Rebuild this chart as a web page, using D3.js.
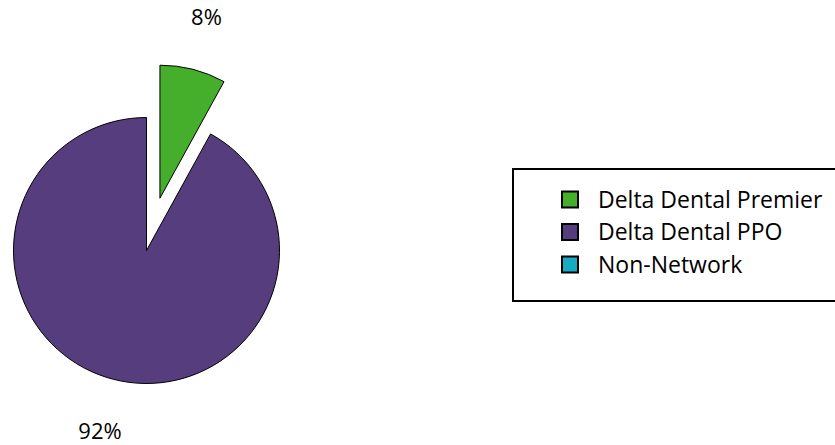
<!DOCTYPE html>
<html>
<head>
<meta charset="utf-8">
<script src="https://cdn.jsdelivr.net/npm/d3@7"></script>
<style>
  body { margin: 0; background: #fff; }
  text { font-family: "Open Sans", "DejaVu Sans", sans-serif; fill: #000; }
</style>
</head>
<body>
<div class="chart"></div>
<script>
var svgWidth = 835;
var svgHeight = 445;

// data
var categories = ["Delta Dental Premier", "Delta Dental PPO", "Non-Network"];
var shares = [8, 92, 0];
var colors = ["#45AF2B", "#563D7D", "#18A9C3"];
var exploded = [true, false, false];

var center = { x: 146.5, y: 250.5 };
var radius = 133;
var explodeDist = 54;
var labelRadius = 187;

var svg = d3.select(".chart")
    .append("svg")
    .attr("width", svgWidth)
    .attr("height", svgHeight);

var data = categories.map((c, i) => ({ name: c, value: shares[i], color: colors[i], explode: exploded[i] }));

var pie = d3.pie()
    .sort(null)
    .value(d => d.value);

var arc = d3.arc()
    .innerRadius(0)
    .outerRadius(radius);

var labelArc = d3.arc()
    .innerRadius(labelRadius)
    .outerRadius(labelRadius);

var arcs = pie(data).filter(d => d.data.value > 0);

function offset(d) {
    if (!d.data.explode) return [0, 0];
    var a = (d.startAngle + d.endAngle) / 2;
    return [Math.sin(a) * explodeDist, -Math.cos(a) * explodeDist];
}

var pieGroup = svg.append("g")
    .attr("transform", `translate(${center.x}, ${center.y})`);

var slices = pieGroup.selectAll("g.slice")
    .data(arcs)
    .enter()
    .append("g")
    .attr("class", "slice")
    .attr("transform", d => `translate(${offset(d)[0]}, ${offset(d)[1]})`);

slices.append("path")
    .attr("d", arc)
    .attr("fill", d => d.data.color)
    .attr("stroke", "#000")
    .attr("stroke-width", 1)
    .attr("stroke-linejoin", "miter");

// percent labels
slices.append("text")
    .attr("transform", d => `translate(${labelArc.centroid(d)})`)
    .attr("text-anchor", "middle")
    .attr("dy", "0.35em")
    .style("font-size", "22px")
    .text(d => d3.format(".0f")(d.data.value) + "%");

// legend
var legend = svg.append("g")
    .attr("transform", "translate(513, 169)");

legend.append("rect")
    .attr("x", 0)
    .attr("y", 0)
    .attr("width", 340)
    .attr("height", 132)
    .attr("fill", "#fff")
    .attr("stroke", "#000")
    .attr("stroke-width", 2);

var rows = legend.selectAll("g.row")
    .data(data)
    .enter()
    .append("g")
    .attr("class", "row")
    .attr("transform", (d, i) => `translate(49, ${22.5 + i * 32.5})`);

rows.append("rect")
    .attr("width", 16)
    .attr("height", 16)
    .attr("fill", d => d.color)
    .attr("stroke", "#000")
    .attr("stroke-width", 2);

rows.append("text")
    .attr("x", 36)
    .attr("y", 8)
    .attr("dy", "0.35em")
    .style("font-size", "23px")
    .text(d => d.name);
</script>
</body>
</html>
